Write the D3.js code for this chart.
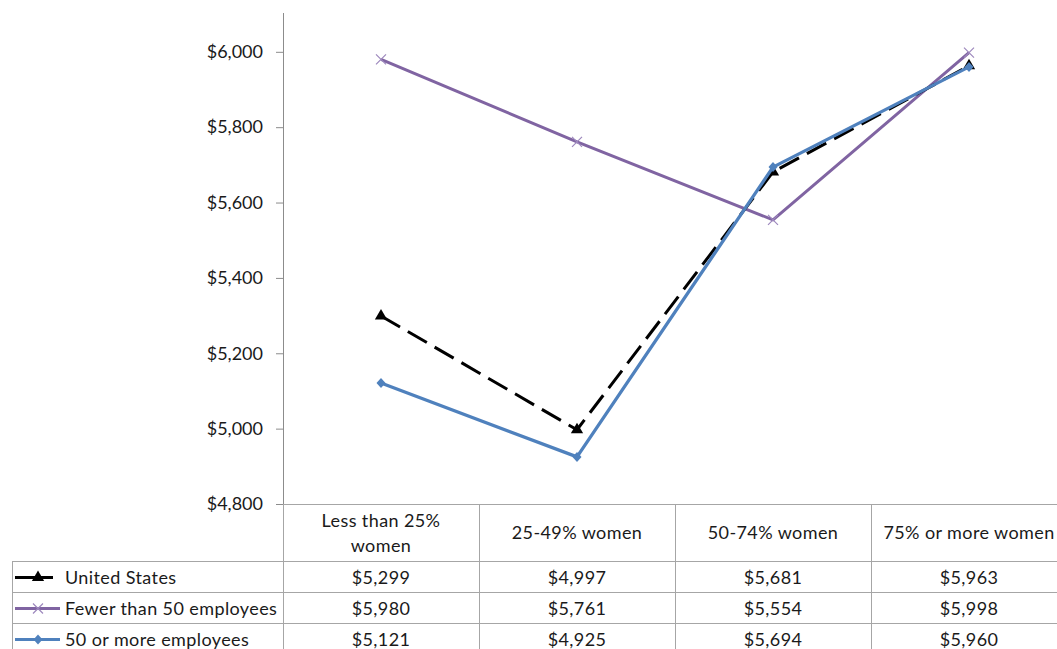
<!DOCTYPE html>
<html><head><meta charset="utf-8">
<script src="https://cdn.jsdelivr.net/npm/d3@7"></script>
<style>body{margin:0;background:#fff}svg{display:block}text{font-family:Lato,"Noto Sans",sans-serif;fill:#1a1a1a}</style>
</head><body>
<svg id="c" width="1057" height="649"></svg>
<script>
const categories = [["Less than 25%","women"],["25-49% women"],["50-74% women"],["75% or more women"]];
const seriesNames = ["United States","Fewer than 50 employees","50 or more employees"];
const usValues = [5299, 4997, 5681, 5963];
const fewerValues = [5980, 5761, 5554, 5998];
const moreValues = [5121, 4925, 5694, 5960];
const yTicks = [4800, 5000, 5200, 5400, 5600, 5800, 6000];

(function(){
const svg = d3.select("#c");
const pLeft = 283, pRight = 1067, pTop = 13, pBottom = 504;
const x = d3.scaleBand().domain(d3.range(4)).range([pLeft, pRight]);
const y = d3.scaleLinear().domain([4800, 6103]).range([pBottom, pTop]);
const fmt = v => "$" + d3.format(",")(v);
const gridCol = "#a6a6a6";
const fs = "18px", ls = "0.4px";

// y axis
const yAxis = d3.axisLeft(y).tickValues(yTicks).tickFormat(fmt).tickSize(7).tickPadding(13);
const ga = svg.append("g").attr("transform", `translate(${pLeft},0)`).call(yAxis);
ga.select(".domain").attr("stroke", "#8c8c8c").attr("d", `M0.5,${pTop}V${pBottom}`);
ga.selectAll(".tick line").attr("stroke", "#8c8c8c");
ga.selectAll(".tick text").style("font-size", fs).style("font-family", "Lato").attr("fill", "#1a1a1a");

// table
const rowsY = [504, 561, 592, 623, 654];
const tbl = svg.append("g");
tbl.append("line").attr("x1", pLeft).attr("x2", 1057).attr("y1", rowsY[0]+0.5).attr("y2", rowsY[0]+0.5).attr("stroke", gridCol);
for (let i = 1; i < 4; i++) tbl.append("line").attr("x1", 12).attr("x2", 1057).attr("y1", rowsY[i]+0.5).attr("y2", rowsY[i]+0.5).attr("stroke", gridCol);
tbl.append("line").attr("x1", 12.5).attr("x2", 12.5).attr("y1", rowsY[1]).attr("y2", 649).attr("stroke", gridCol);
d3.range(4).forEach(i => {
  const xx = x(i) + 0.5;
  tbl.append("line").attr("x1", xx).attr("x2", xx).attr("y1", i === 0 ? pBottom : rowsY[0]).attr("y2", 649).attr("stroke", gridCol);
});
categories.forEach((lines, i) => {
  const cx = x(i) + x.bandwidth()/2;
  const n = lines.length;
  lines.forEach((t, j) => {
    tbl.append("text").attr("x", cx).attr("y", 533 + (j - (n-1)/2) * 25).attr("dy", "0.35em")
      .attr("text-anchor", "middle").style("font-size", fs).style("letter-spacing", ls).text(t);
  });
});

const series = [
  {name: seriesNames[0], values: usValues, color: "#000000", dash: "22,9", marker: "tri"},
  {name: seriesNames[1], values: fewerValues, color: "#8064A2", dash: null, marker: "x"},
  {name: seriesNames[2], values: moreValues, color: "#4F81BD", dash: null, marker: "dia"}
];

function drawMarker(g, type, cx, cy, color) {
  if (type === "tri") {
    g.append("path").attr("d", d3.symbol().type(d3.symbolTriangle).size(65)()).attr("transform", `translate(${cx},${cy})`).attr("fill", color);
  } else if (type === "dia") {
    g.append("path").attr("d", `M0,-5L4.5,0L0,5L-4.5,0Z`).attr("transform", `translate(${cx},${cy})`).attr("fill", color);
  } else {
    g.append("path").attr("d", "M-5,-5L5,5M-5,5L5,-5").attr("transform", `translate(${cx},${cy})`).attr("stroke", "#9d88bd").attr("stroke-width", 1.2).attr("fill", "none");
  }
}

series.forEach((s, r) => {
  const cy = (rowsY[r+1] + rowsY[r+2]) / 2 + 1;
  tbl.append("line").attr("x1", 15).attr("x2", s.marker === "tri" ? 53 : 60).attr("y1", cy).attr("y2", cy).attr("stroke", s.color).attr("stroke-width", 3);
  drawMarker(tbl, s.marker, 38, cy, s.color);
  tbl.append("text").attr("x", 65).attr("y", cy).attr("dy", "0.35em").style("font-size", fs).style("letter-spacing", ls).text(s.name);
  s.values.forEach((v, i) => {
    tbl.append("text").attr("x", x(i) + x.bandwidth()/2).attr("y", cy).attr("dy", "0.35em").attr("text-anchor", "middle").style("font-size", fs).style("letter-spacing", ls).text(fmt(v));
  });
});

const line = d3.line().x((d, i) => x(i) + x.bandwidth()/2).y(d => y(d));
[1, 0, 2].forEach(k => {
  const s = series[k];
  const g = svg.append("g");
  g.append("path").attr("d", line(s.values)).attr("fill", "none").attr("stroke", s.color).attr("stroke-width", k === 2 ? 3.3 : 3)
    .attr("stroke-dasharray", s.dash).attr("stroke-linejoin", "round");
  s.values.forEach((v, i) => drawMarker(g, s.marker, x(i) + x.bandwidth()/2, y(v), s.color));
});
})();
</script>
</body></html>
